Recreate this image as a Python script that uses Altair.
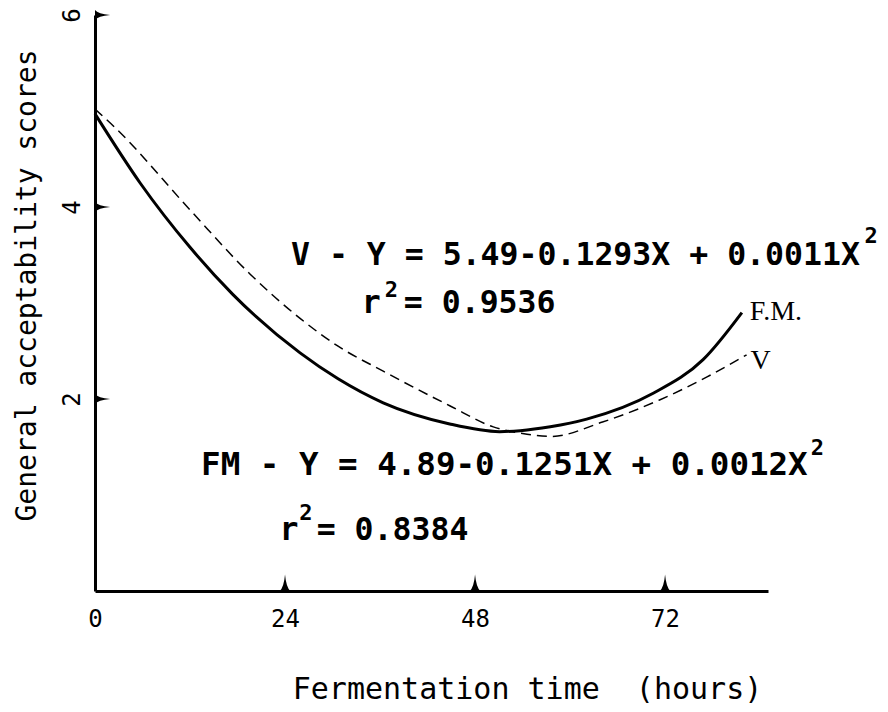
import altair as alt
import pandas as pd

# ---- data ----
fm_hours = [0, 5.7, 12.0, 17.4, 25.9, 30.7, 36.4, 44.8, 51.1, 53.7, 57.5, 62.1, 70.5, 76.8, 81.7]
fm_scores = [4.97, 4.25, 3.58, 3.09, 2.48, 2.21, 1.96, 1.74, 1.66, 1.67, 1.71, 1.79, 2.06, 2.41, 2.90]
v_hours = [0, 2.5, 12.0, 19.6, 25.9, 30.7, 36.4, 44.8, 50.3, 54.0, 57.6, 64.1, 71.3, 77.3, 82.3]
v_scores = [5.02, 4.83, 3.97, 3.30, 2.84, 2.55, 2.29, 1.93, 1.71, 1.64, 1.61, 1.76, 1.99, 2.23, 2.46]
x_ticks = [0, 24, 48, 72]
y_ticks = [2, 4, 6]
series_labels = ["F.M.", "V"]
eq_v = "V - Y = 5.49-0.1293X + 0.0011X"
r2_v = "= 0.9536"
eq_fm = "FM - Y = 4.89-0.1251X + 0.0012X"
r2_fm = "= 0.8384"

mono = "DejaVu Sans Mono"
serif = "Liberation Serif"

x_scale = alt.Scale(domain=[0, 85], nice=False, zero=False)
y_scale = alt.Scale(domain=[0, 6], nice=False, zero=False)

fm_df = pd.DataFrame({"hours": fm_hours, "score": fm_scores})
v_df = pd.DataFrame({"hours": v_hours, "score": v_scores})

x_axis = alt.Axis(
    values=x_ticks, ticks=False, tickSize=0, grid=False,
    domainColor="black", domainWidth=3,
    labelFont=mono, labelFontSize=24, labelColor="black", labelPadding=16,
    labelFlush=False,
    title="Fermentation time\u00a0 (hours)", titleFont=mono, titleFontSize=30,
    titleFontWeight="normal", titleColor="black",
    titleX=432, titleY=107, titleAlign="center", titleBaseline="alphabetic",
)
y_axis = alt.Axis(
    values=y_ticks, ticks=False, tickSize=0, grid=False,
    domainColor="black", domainWidth=3,
    labelFont=mono, labelFontSize=24, labelColor="black", labelPadding=16,
    labelAngle=-90, labelAlign="center", labelBaseline="alphabetic",
    title="General acceptability scores", titleFont=mono, titleFontSize=28,
    titleFontWeight="normal", titleColor="black", titleAngle=-90,
    titleX=-60, titleY=270, titleAlign="center", titleBaseline="alphabetic",
)


def enc(chart, text=None):
    kw = dict(
        x=alt.X("hours:Q", scale=x_scale, axis=x_axis),
        y=alt.Y("score:Q", scale=y_scale, axis=y_axis),
    )
    if text is not None:
        kw["text"] = text
    return chart.encode(**kw)


fm_line = enc(alt.Chart(fm_df).mark_line(
    color="black", strokeWidth=3, interpolate="monotone"
))

v_line = enc(alt.Chart(v_df).mark_line(
    color="black", strokeWidth=1.5, strokeDash=[10, 6], interpolate="monotone"
))

spike_up = "M -0.65 0 Q -0.15 -0.4 0 -2 Q 0.15 -0.4 0.65 0 Z"
spike_right = "M 0 -0.65 Q 0.4 -0.15 2 0 Q 0.4 0.15 0 0.65 Z"

x_spikes = enc(alt.Chart(pd.DataFrame({"hours": x_ticks[1:], "score": [0] * len(x_ticks[1:])})).mark_point(
    shape=spike_up, size=270, filled=True, color="black", opacity=1, strokeWidth=0.5
))
y_spikes = enc(alt.Chart(pd.DataFrame({"hours": [0] * len(y_ticks), "score": y_ticks})).mark_point(
    shape=spike_right, size=230, filled=True, color="black", opacity=1, strokeWidth=0.5
))


def note(text, x, y, size, font=mono, weight="bold", dx=0, dy=0):
    df = pd.DataFrame({"hours": [x], "score": [y], "t": [text]})
    return enc(alt.Chart(df).mark_text(
        align="left", baseline="alphabetic", font=font, fontSize=size,
        fontWeight=weight, color="black", dx=dx, dy=dy,
    ), "t:N")


notes = [
    note(eq_v, 24.75, 3.40, 31.5),
    note("2", 97.2, 3.625, 22),
    note("r", 33.7, 2.896, 31.5),
    note("2", 36.6, 3.0625, 22),
    note(r2_v, 39.0, 2.896, 31.5),
    note(eq_fm, 13.4, 1.208, 32.5),
    note("2", 90.4, 1.417, 22),
    note("r", 23.3, 0.531, 31.5),
    note("2", 25.8, 0.74, 22),
    note(r2_fm, 28.0, 0.531, 31.5),
]

fm_label = enc(alt.Chart(pd.DataFrame({"hours": [fm_hours[-1]], "score": [fm_scores[-1]], "t": [series_labels[0]]})).mark_text(
    align="left", baseline="middle", font=serif, fontSize=28, color="black", dx=8, dy=-1
), "t:N")
v_label = enc(alt.Chart(pd.DataFrame({"hours": [v_hours[-1]], "score": [v_scores[-1]], "t": [series_labels[1]]})).mark_text(
    align="left", baseline="middle", font=serif, fontSize=28, color="black", dx=4, dy=6
), "t:N")

chart = alt.layer(
    fm_line, v_line, x_spikes, y_spikes, *notes, fm_label, v_label
).properties(
    width=673, height=576,
    autosize=alt.AutoSizeParams(type="none"),
    padding={"left": 87, "top": 7, "right": 112, "bottom": 113},
    background="white",
).configure_view(stroke=None)

chart.save("out.html", embed_options={"renderer": "svg", "actions": False})
